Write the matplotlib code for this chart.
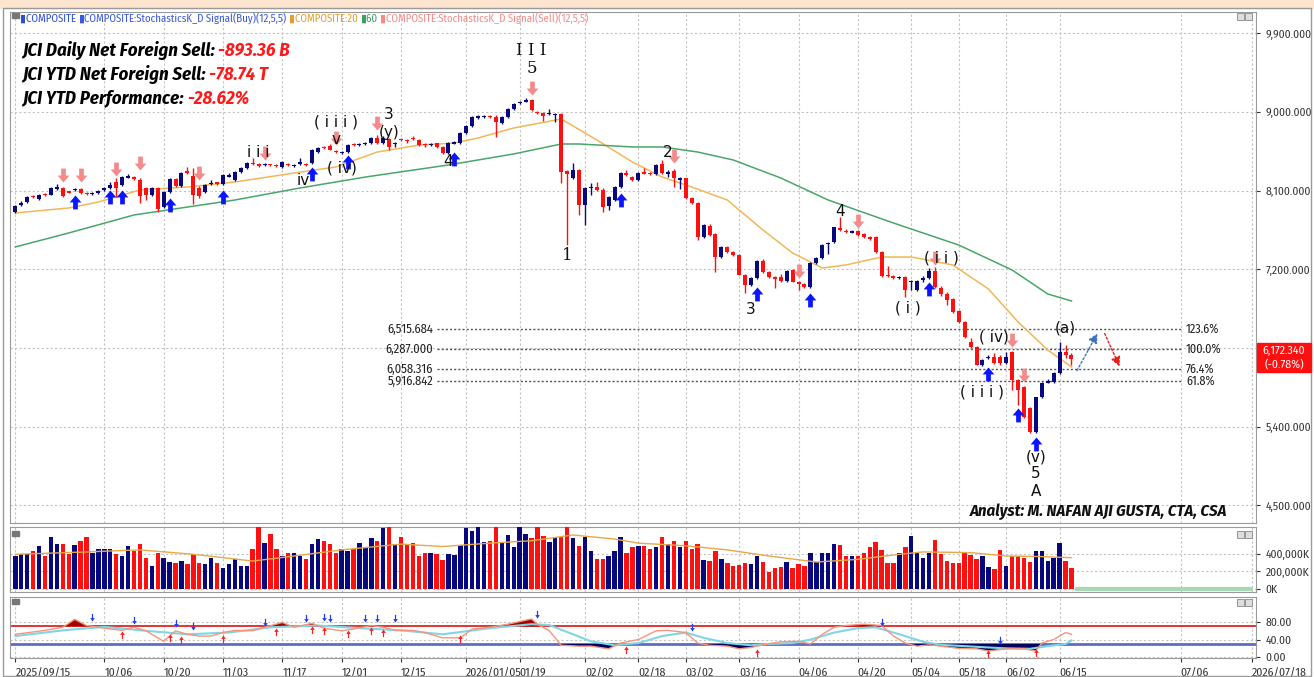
import numpy as np
import matplotlib
matplotlib.use("Agg")
import matplotlib.pyplot as plt
from matplotlib.path import Path
from matplotlib.patches import Rectangle

# ----------------------------
# Candles JCI, blue = up, red = down
# ----------------------------
o_ = [7855, 7935, 7970, 8040, 8005, 8060, 8050, 8125, 8130, 8090,
      8105, 8120, 8070, 8060, 8070, 8110, 8130, 8200, 8165, 8250,
      8260, 8220, 8130, 8050, 8130, 7915, 8085, 8235, 8155, 8320,
      8270, 8130, 8085, 8175, 8195, 8180, 8265, 8225, 8315, 8360,
      8420, 8410, 8390, 8400, 8395, 8375, 8400, 8380, 8400, 8410,
      8415, 8545, 8600, 8610, 8555, 8530, 8545, 8630, 8625, 8635,
      8645, 8705, 8645, 8690, 8630, 8690, 8680, 8700, 8680, 8630,
      8620, 8640, 8600, 8530, 8640, 8645, 8760, 8840, 8935, 8945,
      8950, 8945, 8875, 8945, 9035, 9100, 9120, 9140, 9000, 8990,
      8975, 8960, 8975, 8320, 8245, 8335, 7935, 8130, 8140, 8110,
      7930, 7990, 8140, 8300, 8255, 8220, 8310, 8300, 8290, 8410,
      8290, 8330, 8220, 8240, 8015, 7960, 7570, 7700, 7600, 7340,
      7455, 7395, 7365, 7135, 7020, 7105, 7300, 7165, 7110, 7110,
      7065, 7190, 7055, 7030, 6995, 7275, 7330, 7490, 7510, 7670,
      7640, 7620, 7640, 7600, 7570, 7570, 7400, 7135, 7125, 7100,
      7115, 7050, 6965, 7080, 7100, 7180, 6990, 6920, 6860, 6720,
      6600, 6370, 6310, 6105, 6180, 6200, 6200, 6130, 6250, 5935,
      5850, 5610, 5340, 5740, 5905, 5910, 6010, 6255, 6225]
h_ = [7940, 7985, 8040, 8050, 8060, 8075, 8140, 8175, 8145, 8100,
      8135, 8135, 8080, 8085, 8110, 8145, 8200, 8240, 8270, 8290,
      8270, 8250, 8140, 8140, 8140, 8095, 8245, 8245, 8310, 8370,
      8360, 8150, 8175, 8220, 8200, 8290, 8300, 8325, 8370, 8425,
      8470, 8420, 8420, 8410, 8405, 8440, 8415, 8410, 8470, 8420,
      8575, 8600, 8615, 8630, 8565, 8555, 8635, 8645, 8645, 8655,
      8715, 8740, 8720, 8705, 8660, 8705, 8690, 8720, 8690, 8640,
      8645, 8650, 8610, 8655, 8670, 8770, 8850, 8955, 8960, 8970,
      8965, 8960, 8955, 9045, 9100, 9125, 9160, 9150, 9015, 9000,
      9040, 8990, 8990, 8335, 8415, 8345, 8140, 8190, 8200, 8125,
      8035, 8150, 8310, 8340, 8270, 8310, 8360, 8315, 8400, 8450,
      8340, 8345, 8260, 8250, 8025, 7970, 7715, 7715, 7610, 7465,
      7470, 7410, 7380, 7145, 7115, 7310, 7315, 7180, 7125, 7150,
      7195, 7200, 7070, 7040, 7285, 7340, 7490, 7515, 7690, 7795,
      7660, 7645, 7655, 7610, 7580, 7580, 7410, 7240, 7135, 7125,
      7125, 7080, 7080, 7120, 7210, 7230, 7010, 6935, 6875, 6730,
      6610, 6420, 6320, 6170, 6225, 6240, 6220, 6250, 6270, 5950,
      5870, 5630, 5745, 5910, 5950, 6020, 6370, 6330, 6240]
l_ = [7845, 7925, 7960, 8015, 7995, 8035, 8045, 8110, 8030, 8070,
      8095, 8065, 8050, 8050, 8060, 8100, 8120, 8030, 8150, 8240,
      8225, 7960, 7990, 8040, 7860, 7900, 8075, 8145, 8145, 8290,
      7950, 8020, 8075, 8165, 8170, 8170, 8255, 8215, 8305, 8350,
      8395, 8375, 8380, 8380, 8375, 8365, 8380, 8370, 8390, 8380,
      8405, 8535, 8575, 8560, 8530, 8520, 8535, 8610, 8615, 8625,
      8635, 8630, 8635, 8560, 8600, 8670, 8650, 8680, 8610, 8600,
      8610, 8590, 8520, 8520, 8630, 8635, 8750, 8830, 8925, 8935,
      8930, 8715, 8865, 8935, 9025, 9090, 9110, 9010, 8975, 8900,
      8965, 8880, 8190, 7480, 8230, 7820, 7705, 8050, 8095, 7855,
      7880, 7980, 8130, 8270, 8210, 8210, 8285, 8280, 8280, 8290,
      8260, 8145, 8120, 8000, 7950, 7540, 7560, 7580, 7170, 7330,
      7390, 7355, 7130, 6930, 7010, 7095, 7160, 7100, 6990, 7060,
      7055, 7050, 6960, 6990, 6985, 7265, 7320, 7380, 7500, 7640,
      7610, 7610, 7580, 7560, 7540, 7390, 7115, 7110, 7090, 7090,
      6885, 6960, 6955, 7060, 7090, 6990, 6900, 6790, 6700, 6590,
      6410, 6300, 6100, 6095, 6170, 6120, 6110, 6120, 5820, 5650,
      5500, 5330, 5330, 5730, 5895, 5900, 6000, 6185, 6100]
c_ = [7925, 7960, 8030, 8025, 8050, 8045, 8130, 8135, 8040, 8080,
      8120, 8075, 8060, 8075, 8100, 8130, 8165, 8130, 8255, 8265,
      8235, 8040, 8050, 8130, 7890, 8085, 8235, 8155, 8300, 8305,
      8050, 8040, 8165, 8190, 8180, 8280, 8270, 8315, 8360, 8415,
      8405, 8385, 8400, 8390, 8385, 8430, 8390, 8395, 8430, 8390,
      8565, 8590, 8585, 8570, 8540, 8545, 8625, 8620, 8635, 8645,
      8705, 8645, 8705, 8600, 8645, 8680, 8665, 8690, 8620, 8620,
      8635, 8600, 8530, 8645, 8650, 8760, 8840, 8945, 8950, 8955,
      8945, 8885, 8945, 9035, 9090, 9115, 9140, 9025, 8990, 8955,
      8990, 8975, 8315, 8290, 8335, 7935, 8130, 8145, 8110, 7915,
      8025, 8140, 8300, 8280, 8220, 8300, 8295, 8290, 8390, 8300,
      8315, 8245, 8240, 8020, 7960, 7570, 7705, 7595, 7340, 7455,
      7400, 7365, 7135, 7020, 7105, 7300, 7170, 7110, 7095, 7065,
      7185, 7055, 7030, 7000, 7275, 7330, 7480, 7500, 7685, 7650,
      7625, 7635, 7595, 7570, 7550, 7400, 7125, 7125, 7100, 7115,
      6965, 7070, 7065, 7100, 7180, 7000, 6920, 6850, 6710, 6600,
      6425, 6310, 6105, 6165, 6195, 6130, 6130, 6200, 5935, 5820,
      5510, 5340, 5740, 5905, 5915, 6010, 6255, 6215, 6172.34]

# volume in thousands of K
vol = [373, 392, 392, 430, 488, 373, 583, 507, 507, 392,
       495, 545, 583, 411, 450, 450, 450, 392, 373, 488,
       430, 507, 354, 259, 411, 354, 305, 297, 316, 278,
       392, 297, 278, 354, 297, 240, 278, 343, 259, 259,
       450, 697, 518, 621, 457, 373, 411, 411, 373, 343,
       507, 564, 545, 507, 411, 457, 430, 450, 518, 469,
       572, 545, 686, 697, 507, 583, 507, 518, 373, 404,
       411, 392, 328, 392, 381, 495, 686, 659, 697, 526,
       545, 697, 526, 610, 469, 697, 621, 572, 697, 602,
       526, 572, 591, 697, 572, 488, 591, 430, 343, 335,
       373, 430, 583, 404, 469, 488,
       488, 450, 469, 583, 507, 545, 469, 545, 450, 507,
       328, 316, 430, 343, 290, 259, 267, 297, 278, 373,
       305, 191, 240, 252, 305, 240, 278, 259, 411, 305,
       411, 404, 507, 495, 373, 373, 373, 411, 480, 526,
       442, 297, 297, 411, 469, 594, 404, 354, 404, 556,
       392, 316, 297, 297, 419, 381, 335, 373, 252, 229,
       442, 259, 373, 373, 354, 305, 430, 430, 316, 354,
       518, 316, 240]
vma_i = [0, 12, 21, 30, 40, 47, 55, 65, 72, 80, 87, 94, 101, 105, 113, 120,
         127, 135, 142, 149, 153, 161, 167, 173, 178]
vma_v = [392, 419, 442, 392, 316, 373, 442, 507, 480, 518, 545, 610, 564, 518,
         488, 442, 373, 305, 335, 392, 419, 411, 373, 366, 354]

# moving averages (sampled along the lines)
ma20_i = [0, 9, 14, 21, 29, 37, 47, 54, 61, 68, 74, 78, 84, 92, 98, 104, 109,
          114, 120, 126, 131, 136, 140, 146, 151, 158, 164, 169, 174, 178]
ma20_v = [7845, 7902, 7970, 8108, 8142, 8199, 8302, 8371, 8542, 8622, 8645,
          8703, 8817, 8920, 8680, 8428, 8256, 8142, 7993, 7650, 7387, 7215,
          7250, 7341, 7341, 7250, 6975, 6598, 6277, 6083]
ma60_i = [0, 9, 20, 37, 48, 59, 73, 84, 92, 95, 104, 109, 115, 121, 129, 137,
          148, 159, 168, 174, 178]
ma60_v = [7456, 7616, 7822, 7993, 8131, 8256, 8394, 8520, 8634, 8634, 8600,
          8600, 8542, 8451, 8245, 7993, 7730, 7478, 7192, 6918, 6838]

# RSI(14,9) and signal
rsi_i = [0, 5, 8, 10, 12, 16, 18, 20, 22, 25, 27, 29, 31, 33, 35, 37, 40, 42,
         45, 47, 50, 52, 55, 57, 60, 62, 64, 67, 69, 72, 75, 77, 80, 83, 87,
         88, 90, 92, 95, 97, 100, 102, 105, 108, 110, 113, 115, 117, 120, 122,
         124, 126, 129, 132, 134, 136, 138, 140, 143, 146, 148, 150, 152, 154,
         156, 159, 162, 164, 167, 170, 172, 173, 175, 177, 178]
rsi_v = [52, 61, 68, 86, 72, 64, 61, 68, 60, 36, 60, 52, 48, 48, 56, 61, 60, 68,
         79, 68, 77, 66, 60, 64, 72, 68, 61, 61, 56, 44, 44, 64, 68, 75, 87,
         75, 60, 27, 25, 25, 19, 32, 40, 60, 61, 56, 32, 27, 25, 19,
         22, 28, 35, 36, 30, 52, 68, 72, 75, 72, 48, 32, 25, 28,
         25, 20, 19, 14, 19, 19, 14, 32, 40, 56, 52]
sig_i = [0, 8, 15, 22, 29, 36, 43, 51, 58, 65, 72, 80, 87, 90, 94, 97, 101,
         105, 109, 113, 116, 120, 124, 127, 131, 134, 138, 142, 145, 149, 153,
         156, 160, 164, 167, 171, 174, 177, 178]
sig_v = [48, 61, 69, 60, 52, 56, 68, 72, 66, 61, 52, 66, 75, 73, 52, 36, 27,
         32, 48, 56, 44, 32, 27, 30, 32, 40, 56, 66, 68, 52, 35, 28, 25, 22,
         20, 19, 25, 30, 38]
rsi_dn_i = [13, 20, 27, 30, 42, 49, 52, 53, 59, 61, 64, 88, 114, 146, 166]
rsi_dn_v = [82, 75, 68, 61, 72, 81, 83, 79, 81, 81, 79, 89, 60, 70, 31]
rsi_up_i = [18, 26, 28, 35, 44, 50, 52, 56, 60, 62, 75, 103, 125, 164, 172]
rsi_up_v = [60, 52, 48, 50, 66, 72, 68, 61, 68, 64, 50, 25, 19, 17, 19]

# stochastic buy / sell signals
buy_i = [10, 16, 18, 26, 35, 50, 56, 74, 102, 125, 134, 154, 164, 169, 172]
buy_p = [8050, 8108, 8108, 8016, 8108, 8371, 8508, 8542, 8073, 6998, 6929,
         7055, 6083, 5614, 5282]
sell_i = [8, 11, 17, 21, 31, 42, 54, 61, 87, 111, 132, 142, 155, 168, 170]
sell_p = [8199, 8199, 8268, 8336, 8222, 8451, 8622, 8794, 9194, 8417, 7101,
          7673, 7250, 6312, 5911]

# Elliott wave labels
serif_txt = ["I I I", "5", "1"]
serif_i = [87, 87, 93]
serif_p = [9709, 9503, 7353]
wave_txt = ["2", "3", "4", "( i )", "( i i )", "( i i i )", "( iv)", "(v)", "5", "A",
            "(a)", "i i i", "iv", "( i i i )", "v", "( iv)", "3", "(y)", "4"]
wave_i = [110, 124, 139, 150.4, 156, 163, 165, 172, 172, 172,
          177, 41, 48.6, 54, 54, 55, 63, 63, 73]
wave_p = [8542, 6746, 7856, 6758, 7330, 5797, 6426, 5053, 4870, 4653,
          6529, 8531, 8222, 8886, 8680, 8359, 8966, 8771, 8428]

# Fibonacci levels
fib_lvl = [6515.684, 6287.000, 6058.316, 5916.842]
fib_pct = ["123.6%", "100.0%", "76.4%", "61.8%"]

# projected path
proj_up_i = [178.7, 182.6]
proj_up_p = [6014, 6495]
proj_dn_i = [183.4, 186.3]
proj_dn_p = [6495, 6060]

price_ticks = [4500, 5400, 6300, 7200, 8100, 9000, 9900]
tick_i = [0, 15, 25, 35, 45, 55, 65, 76, 85, 96, 105, 113, 122, 132, 142,
          151, 159, 167, 176, 196.4, 208.4]
tick_lab = ["2025/09/15", "10/06", "10/20", "11/03", "11/17", "12/01", "12/15",
            "2026/01/05", "01/19", "02/02", "02/18", "03/02", "03/16", "04/06",
            "04/20", "05/04", "05/18", "06/02", "06/15", "07/06", "2026/07/18"]

# ----------------------------
# Styling
# ----------------------------
NAVY = "#08087e"
RED = "#ff1010"
PINK = "#f48b8b"
BLUE = "#0a14ff"
ORANGE = "#f2b756"
GREEN = "#4aa66a"
GRID = "#c4c4c4"
NARROW = ["Fira Sans Condensed", "Pragati Narrow", "DejaVu Sans"]

W, H = 1314, 677
fig = plt.figure(figsize=(W / 100, H / 100), dpi=100)


def box(x0, y0, x1, y1):
    return [x0 / W, 1 - y1 / H, (x1 - x0) / W, (y1 - y0) / H]


ax = fig.add_axes(box(10, 12, 1256, 523))
axv = fig.add_axes(box(10, 527, 1256, 592), sharex=ax)
axr = fig.add_axes(box(10, 597, 1256, 658), sharex=ax)

for a in (ax, axv, axr):
    for sp in a.spines.values():
        sp.set_color("#9a9a9a")
    a.yaxis.tick_right()
    a.tick_params(axis="y", length=3, pad=4, labelsize=8.3, colors="#333333")
    a.tick_params(axis="x", length=3, colors="#333333")
    a.grid(True, color=GRID, ls=(0, (2, 2)), lw=0.8)
    a.set_axisbelow(True)

ax.set_xlim(-0.9, 209.1)
ax.set_xticks(tick_i)
axr.set_xticklabels(tick_lab, ha="left", fontsize=8.5, family=NARROW)
ax.tick_params(axis="x", labelbottom=False, bottom=False)
axv.tick_params(axis="x", labelbottom=False, bottom=False)

# ---------------- price panel ----------------
x = np.arange(len(c_))
o = np.array(o_, float)
c = np.array(c_, float)
up = c >= o
cols = np.where(up, NAVY, RED)
ax.vlines(x, l_, h_, colors=cols, lw=1, zorder=3)
diff = np.abs(c - o)
body = np.maximum(diff, 14)
ax.bar(x, body, bottom=np.minimum(o, c) - (body - diff) / 2, width=0.68,
       color=cols, zorder=4)

ax.plot(ma20_i, ma20_v, color=ORANGE, lw=1.1, zorder=2)
ax.plot(ma60_i, ma60_v, color=GREEN, lw=1.1, zorder=2)

ax.set_ylim(4298, 10144)
ax.set_yticks(price_ticks)
# the 6,300 label sits under the last-price tag
ax.set_yticklabels(["" if v == 6300 else f"{v:,.3f}" for v in price_ticks])


def arrow_path(head, shaft, neck):
    verts = [(0, 0), (head, -neck), (shaft, -neck), (shaft, -1), (-shaft, -1),
             (-shaft, -neck), (-head, -neck), (0, 0)]
    codes = [Path.MOVETO] + [Path.LINETO] * 6 + [Path.CLOSEPOLY]
    return Path(verts, codes)


up_big = arrow_path(0.42, 0.17, 0.5)
dn_big = Path(up_big.vertices * [1, -1], up_big.codes)
up_small = arrow_path(0.3, 0.08, 0.45)
dn_small = Path(up_small.vertices * [1, -1], up_small.codes)

ax.plot(buy_i, buy_p, ls="none", marker=up_big, markersize=20, color=BLUE,
        markeredgewidth=0, zorder=6)
ax.plot(sell_i, sell_p, ls="none", marker=dn_big, markersize=20, color=PINK,
        markeredgewidth=0, zorder=6)

for t, i, p in zip(serif_txt, serif_i, serif_p):
    ax.text(i, p, t, ha="center", va="center", fontsize=12, family="DejaVu Serif",
            color="#111111", zorder=7)
for t, i, p in zip(wave_txt, wave_i, wave_p):
    ax.text(i, p, t, ha="center", va="center", fontsize=11, color="#111111", zorder=7)

for lv, pct in zip(fib_lvl, fib_pct):
    ax.hlines(lv, 71, 196.4, colors="#555555", lw=1, ls=(0, (1.5, 1.5)), zorder=1)
    ax.text(70.4, lv, f"{lv:,.3f}", ha="right", va="center", fontsize=9,
            family=NARROW, color="#222222")
    ax.text(197.3, lv, pct, ha="left", va="center", fontsize=8.8,
            family=NARROW, color="#222222")

ax.annotate("", xy=(proj_up_i[1], proj_up_p[1]), xytext=(proj_up_i[0], proj_up_p[0]),
            arrowprops=dict(arrowstyle="-|>", ls=(0, (1.5, 1.5)), color="#3d72c4",
                            lw=1, mutation_scale=14))
ax.annotate("", xy=(proj_dn_i[1], proj_dn_p[1]), xytext=(proj_dn_i[0], proj_dn_p[0]),
            arrowprops=dict(arrowstyle="-|>", ls=(0, (1.5, 1.5)), color="#ee1c1c",
                            lw=1, mutation_scale=14))

# ---------------- volume panel ----------------
axv.bar(x, vol, width=0.75, color=cols, zorder=3)
axv.plot(vma_i, vma_v, color="#e8a848", lw=1, zorder=4)
axv.hlines(0, 178.6, 208.6, colors="#a9d9b4", lw=3, zorder=2)
axv.set_ylim(-33, 700)
axv.set_yticks([0, 200, 400])
axv.set_yticklabels(["0K", "200,000K", "400,000K"])

# ---------------- RSI panel ----------------
ri = np.array(rsi_i)
rv = np.array(rsi_v, float)
axr.fill_between(ri, rv, 70, where=rv > 70, interpolate=True, color="#a30000", lw=0, zorder=3)
axr.fill_between(ri, rv, 30, where=rv < 30, interpolate=True, color="#00005e", lw=0, zorder=3)
axr.axhline(70, color="#e02424", lw=1.3, zorder=2)
axr.axhline(30, color="#5d6cc6", lw=2, zorder=2)
axr.plot(sig_i, sig_v, color="#7fd6e4", lw=1.5, zorder=4)
axr.plot(rsi_i, rsi_v, color="#f5957c", lw=1, zorder=5)
axr.plot(rsi_dn_i, rsi_dn_v, ls="none", marker=dn_small, markersize=11, color="#1c3cff",
         markeredgewidth=0, zorder=6)
axr.plot(rsi_up_i, rsi_up_v, ls="none", marker=up_small, markersize=11, color="#ff2020",
         markeredgewidth=0, zorder=6)
axr.set_ylim(-2, 137)
axr.set_yticks([0, 40, 80])
axr.set_yticklabels(["0.00", "40.00", "80.00"])

for a in (ax, axv, axr):
    for t in a.get_yticklabels():
        t.set_family(NARROW)


# ---------------- texts ----------------
def chain(y_px, x_px, pieces, **kw):
    prev = None
    for s, col in pieces:
        if prev is None:
            prev = ax.annotate(s, xy=(x_px, H - y_px), xycoords="figure pixels",
                               va="center", ha="left", color=col,
                               annotation_clip=False, zorder=9, **kw)
        else:
            prev = ax.annotate(s, xy=(1, 0), xycoords=prev, va="bottom", ha="left",
                               color=col, annotation_clip=False, zorder=9, **kw)


c1, c2, c3, c4 = "#2f4fd0", "#3a58e0", "#e0a030", "#3aa060"
chain(19, 20, [("▮", c1), ("COMPOSITE ", c1), ("▮", c2),
               ("COMPOSITE:StochasticsK_D Signal(Buy)(12,5,5) ", c2),
               ("▮", c3), ("COMPOSITE:20 ", c3), ("▮", c4), ("60 ", c4),
               ("▮", PINK), ("COMPOSITE:StochasticsK_D Signal(Sell)(12,5,5)", PINK)],
      fontsize=7.8, family=NARROW)
chain(539, 20, [("▮", "#4f9a6c"), ("COMPOSITE:Volume ", "#4f9a6c"),
                ("▮", "#e0a030"), ("COMPOSITE:20", "#e0a030")],
      fontsize=7.8, family=NARROW)
chain(606, 20, [("▮", "#f0604a"), ("COMPOSITE:RSI(14,9) ", "#f0604a"),
                ("▮", "#5cc6d6"), ("Signal", "#5cc6d6")],
      fontsize=7.8, family=NARROW)

big = dict(fontsize=13.5, fontweight="bold", fontstyle="italic", family=NARROW)
chain(50, 22, [("JCI Daily Net Foreign Sell: ", "black"), ("-893.36 B", "#ff1a1a")], **big)
chain(74, 22, [("JCI YTD Net Foreign Sell: ", "black"), ("-78.74 T", "#ff1a1a")], **big)
chain(98, 22, [("JCI YTD Performance: ", "black"), ("-28.62%", "#ff1a1a")], **big)

fig.text(1227 / W, 1 - 512 / H, "Analyst: M. NAFAN AJI GUSTA, CTA, CSA", ha="right",
         va="center", fontsize=12, fontweight="bold", fontstyle="italic",
         family=NARROW, color="#111111")

# current price tag
fig.add_artist(Rectangle((1257 / W, 1 - 372 / H), 54 / W, 29 / H,
                         transform=fig.transFigure, color="#ff1010", zorder=8))
fig.text(1284 / W, 1 - 351 / H, "6,172.340", ha="center", va="center", fontsize=8.5,
         family=NARROW, color="white", zorder=9)
fig.text(1284 / W, 1 - 365 / H, "(-0.78%)", ha="center", va="center", fontsize=8.5,
         family=NARROW, color="white", zorder=9)

# window chrome
fig.add_artist(Rectangle((0, 1 - 8 / H), 1, 8 / H, transform=fig.transFigure,
                         color="#fde4cf", zorder=0))
fig.add_artist(Rectangle((3 / W, 1 / H), 1308 / W, (H - 9) / H, transform=fig.transFigure,
                         fill=False, ec="#9a9a9a", lw=1))
for ytop in (13, 531, 599):
    fig.add_artist(Rectangle((12 / W, 1 - (ytop + 5) / H), 7 / W, 5 / H,
                             transform=fig.transFigure, color="#777777", zorder=8))
    for xl in (1237, 1245):
        fig.add_artist(Rectangle((xl / W, 1 - (ytop + 7) / H), 7 / W, 7 / H,
                                 transform=fig.transFigure, fc="#dddddd",
                                 ec="#888888", lw=0.6, zorder=8))

fig.savefig("out.png", dpi=100)
